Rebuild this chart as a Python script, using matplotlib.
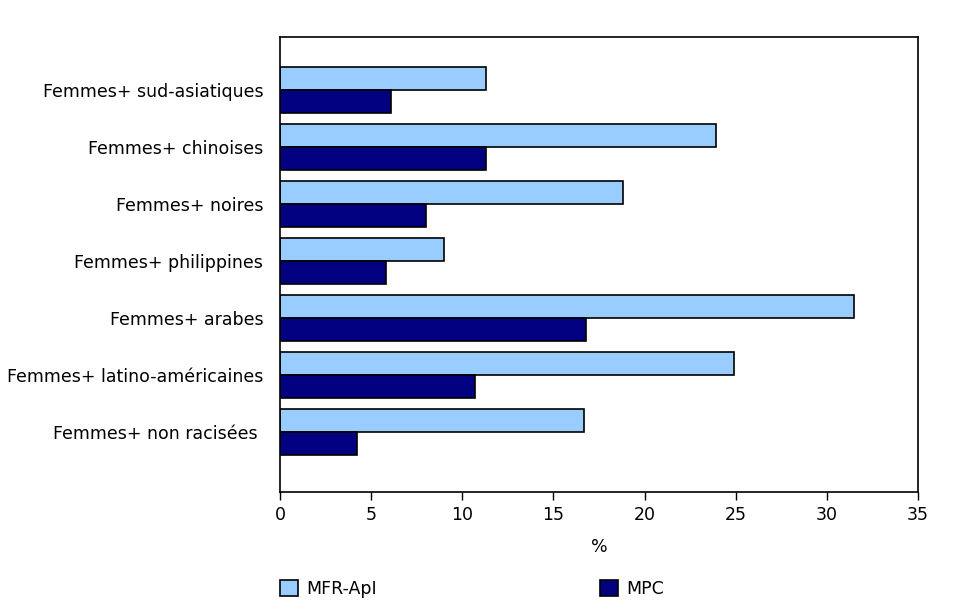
import matplotlib
matplotlib.use("Agg")
import matplotlib.pyplot as plt
import numpy as np
from matplotlib.patches import Patch

categories = ["Femmes+ sud-asiatiques", "Femmes+ chinoises", "Femmes+ noires",
              "Femmes+ philippines", "Femmes+ arabes",
              "Femmes+ latino-américaines", "Femmes+ non racisées "]
mfr_api = [11.3, 23.9, 18.8, 9.0, 31.5, 24.9, 16.7]
mpc = [6.1, 11.3, 8.0, 5.8, 16.8, 10.7, 4.2]
series_names = ["MFR-ApI", "MPC"]
xticks = [0, 5, 10, 15, 20, 25, 30, 35]

light = "#99CCFF"
dark = "#000080"
fs = 12.5

plt.rcParams['font.family'] = ['DejaVu Sans']
fig = plt.figure(figsize=(9.73, 6.09), dpi=100)
ax = fig.add_axes([280/973, 1 - 492/609, (918-280)/973, (492-37)/609])

y = np.arange(len(categories))
h = 0.40
ax.barh(y - h/2, mfr_api, height=h, color=light, edgecolor="black", linewidth=1.2)
ax.barh(y + h/2, mpc, height=h, color=dark, edgecolor="black", linewidth=1.2)

ax.set_xlim(0, 35)
ax.set_ylim(6 + 60/57, -53/57)
ax.set_yticks(y)
ax.set_yticklabels(categories, fontsize=fs)
ax.tick_params(axis='y', length=0, pad=12)
ax.set_xticks(xticks)
ax.set_xticklabels([str(t) for t in xticks], fontsize=fs)
ax.tick_params(axis='x', length=6, width=1, direction='out', pad=4)
for s in ax.spines.values():
    s.set_linewidth(1.2)
ax.set_xlabel("%", fontsize=fs, labelpad=10)

hl = 18 / (fs * 100 / 72)
for name, col, x0 in [(series_names[0], light, 280), (series_names[1], dark, 600)]:
    leg = fig.legend(handles=[Patch(facecolor=col, edgecolor="black", linewidth=1.2, label=name)],
                     loc="center left", bbox_to_anchor=(x0/973, 1 - 589/609),
                     frameon=False, fontsize=fs, borderpad=0, borderaxespad=0,
                     handlelength=hl, handleheight=hl, handletextpad=0.45)

fig.savefig("out.png", dpi=100)
